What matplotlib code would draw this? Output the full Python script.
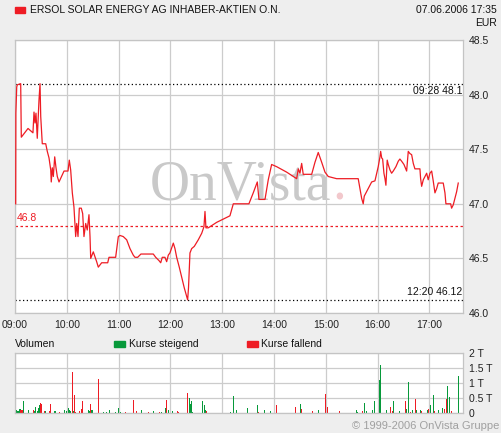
import matplotlib
matplotlib.use("Agg")
import matplotlib.pyplot as plt

# Kursverlauf: Minuten seit 09:00 und Kurs in EUR
price_minutes = [0.8, 1.0, 2.0, 2.7, 6.6, 7.3, 15.1, 20.8, 22.0, 23.2, 24.3, 25.8, 27.8, 29.0, 29.8,
                 31.6, 35.6, 37.4, 39.4, 41.4, 42.0, 43.2, 44.4, 46.0, 47.5, 49.0, 51.0, 56.8, 61.4,
                 62.9, 64.5, 66.4, 68.3, 70.3, 71.5, 73.0, 74.5, 76.8, 78.4, 79.9, 81.9, 83.7, 85.7,
                 86.9, 87.7, 90.7, 94.6, 96.5, 100.4, 107.4, 108.9, 116.6, 119.7, 121.6, 125.4,
                 129.4, 133.2, 137.0, 139.0, 142.1, 145.9, 160.2, 163.0, 166.8, 168.8, 170.6, 173.7,
                 175.7, 177.6, 179.5, 183.4, 185.3, 187.3, 190.3, 193.1, 196.1, 200.0, 201.0, 202.7,
                 204.7, 207.7, 212.3, 216.3, 218.9, 220.1, 221.2, 223.9, 227.8, 231.7, 233.6, 241.3,
                 249.0, 252.9, 271.0, 276.0, 280.7, 282.6, 289.6, 293.4, 297.3, 303.1, 314.7, 326.3,
                 328.2, 330.1, 332.1, 333.9, 343.7, 347.5, 351.3, 355.3, 359.1, 362.9, 372.6, 397.6,
                 399.6, 401.6, 403.4, 404.6, 406.6, 409.2, 413.2, 417.0, 419.0, 420.8, 422.8, 423.6,
                 424.8, 425.9, 427.4, 428.6, 429.7, 431.2, 432.4, 434.4, 436.3, 438.2, 441.3, 444.0,
                 445.9, 447.9, 450.6, 453.7, 455.6, 457.5, 459.5, 461.4, 463.3, 469.1, 469.9, 471.1,
                 473.0, 476.9, 478.7, 480.7, 482.7, 484.5, 486.5, 488.5, 490.3, 496.1, 498.1, 499.2,
                 504.7, 505.8, 507.7, 511.6, 513.5]
price_values = [47.00, 47.83, 48.07, 48.09, 48.10, 47.61, 47.69, 47.65, 47.84, 47.74, 47.83, 47.60,
                47.95, 48.10, 47.80, 47.55, 47.55, 47.48, 47.42, 47.31, 47.20, 47.33, 47.25, 47.43,
                47.33, 47.25, 47.20, 47.30, 47.30, 47.40, 47.31, 47.10, 46.97, 46.70, 46.82, 46.70,
                46.96, 46.96, 46.91, 46.70, 46.82, 46.76, 46.90, 46.70, 46.50, 46.56, 46.47, 46.42,
                46.46, 46.46, 46.51, 46.51, 46.70, 46.71, 46.70, 46.67, 46.59, 46.53, 46.51, 46.51,
                46.54, 46.54, 46.51, 46.48, 46.46, 46.51, 46.51, 46.47, 46.53, 46.55, 46.64, 46.59,
                46.51, 46.42, 46.33, 46.23, 46.12, 46.23, 46.55, 46.59, 46.61, 46.67, 46.73, 46.79,
                46.93, 46.78, 46.78, 46.80, 46.82, 46.83, 46.86, 46.89, 47.00, 47.00, 47.10, 47.20,
                47.04, 47.04, 47.22, 47.36, 47.34, 47.29, 47.23, 47.32, 47.28, 47.37, 47.27, 47.27,
                47.38, 47.47, 47.38, 47.29, 47.25, 47.23, 47.23, 47.14, 47.05, 47.00, 47.07, 47.10,
                47.14, 47.20, 47.21, 47.28, 47.34, 47.43, 47.48, 47.42, 47.41, 47.28, 47.23, 47.17,
                47.40, 47.36, 47.31, 47.28, 47.30, 47.34, 47.39, 47.41, 47.39, 47.36, 47.30, 47.48,
                47.46, 47.45, 47.37, 47.32, 47.32, 47.23, 47.16, 47.22, 47.28, 47.22, 47.28, 47.30,
                47.21, 47.10, 47.14, 47.19, 47.19, 47.10, 47.00, 47.00, 46.96, 46.99, 47.11, 47.19]

# Umsatz in Tausend Stueck
up_minutes = [0.0, 1.2, 2.3, 3.9, 5.8, 9.6, 15.4, 22.4, 23.5, 25.8, 27.0, 28.2, 35.1, 45.6, 46.7,
              57.1, 59.8, 61.8, 62.9, 64.1, 67.6, 85.0, 86.1, 88.4, 89.6, 102.3, 105.8, 109.2,
              116.2, 119.7, 122.0, 146.3, 160.2, 169.5, 174.1, 177.6, 182.2, 201.9, 203.1, 204.2,
              205.4, 217.0, 219.3, 220.4, 249.4, 252.9, 256.3, 269.1, 280.7, 288.8, 295.7, 330.5,
              351.3, 395.3, 396.5, 404.6, 406.9, 413.9, 416.2, 422.0, 423.1, 430.1, 438.2, 445.1,
              453.2, 455.6, 460.2, 464.8, 469.5, 477.6, 481.0, 484.5, 490.3, 494.9, 500.7, 503.0,
              513.5]
up_volume = [1.19, 0.11, 0.08, 0.08, 0.14, 0.41, 0.11, 0.08, 0.20, 0.08, 0.17, 0.28, 0.08, 0.08,
             0.08, 0.11, 0.08, 0.17, 0.11, 0.08, 0.08, 0.11, 0.08, 0.11, 0.11, 0.04, 0.04, 0.11,
             0.04, 0.18, 0.04, 0.11, 0.08, 0.04, 0.18, 0.11, 0.08, 0.51, 0.31, 0.41, 0.04, 0.41,
             0.28, 0.11, 0.04, 0.58, 0.11, 0.18, 0.28, 0.11, 0.08, 0.31, 0.11, 0.11, 0.04, 0.34,
             0.08, 0.11, 0.41, 1.11, 1.61, 0.11, 0.41, 0.08, 0.14, 1.04, 0.11, 0.11, 0.11, 0.11,
             0.28, 0.61, 0.11, 0.18, 0.91, 0.54, 1.24]
down_minutes = [6.9, 8.5, 21.2, 29.3, 30.5, 33.9, 39.7, 40.9, 51.3, 66.4, 68.7, 69.8, 74.5, 76.8,
                78.0, 87.2, 96.5, 127.8, 137.0, 140.5, 154.4, 167.1, 175.3, 188.0, 189.2, 199.6,
                221.6, 281.8, 302.7, 324.7, 331.6, 344.4, 359.4, 361.7, 375.6, 402.3, 434.7, 437.0,
                452.1, 457.9, 463.7, 470.6, 478.7, 485.7, 497.3, 499.6, 505.4]
down_volume = [0.11, 0.11, 0.11, 0.33, 0.31, 0.08, 0.08, 0.31, 0.04, 1.36, 0.59, 0.04, 0.08, 0.14,
               0.41, 0.31, 1.14, 0.04, 0.44, 0.08, 0.04, 0.04, 0.44, 0.08, 0.04, 0.68, 0.08, 0.04,
               0.28, 0.21, 0.14, 0.08, 0.64, 0.21, 0.08, 0.08, 0.21, 0.08, 0.41, 0.04, 0.48, 0.08,
               0.14, 0.08, 0.14, 0.48, 0.08]

hour_labels = ["09:00", "10:00", "11:00", "12:00", "13:00", "14:00", "15:00", "16:00", "17:00"]
price_ticks = [46.0, 46.5, 47.0, 47.5, 48.0, 48.5]
volume_ticks = [0, 0.5, 1, 1.5, 2]
volume_labels = ["0", "0.5 T", "1 T", "1.5 T", "2 T"]

prev_close = 46.8
day_high, high_time = 48.1, "09:28"
day_low, low_time = 46.12, "12:20"

RED = "#ee1c24"
GREEN = "#07993a"
GRID = "#cccccc"
BG = "#eeeeee"

plt.rcParams["font.family"] = ["Liberation Sans", "DejaVu Sans"]
plt.rcParams["font.size"] = 7.5

fig = plt.figure(figsize=(5.01, 4.33), dpi=100, facecolor=BG)
W, H = 501, 433


def box(left, top, right, bottom):
    # Pixelkoordinaten -> Figure-Koordinaten
    return [left / W, 1 - bottom / H, (right - left) / W, (bottom - top) / H]


x_max = 519
hour_pos = [60 * i for i in range(len(hour_labels))]

# --- Kurschart ---
ax = fig.add_axes(box(15, 40, 463, 313))
ax.set_facecolor("white")
ax.set_xlim(0, x_max)
ax.set_ylim(price_ticks[0], price_ticks[-1])
ax.set_xticks(hour_pos)
ax.set_xticklabels(hour_labels)
ax.set_yticks(price_ticks)
ax.set_yticklabels([f"{v:.1f}" for v in price_ticks])
ax.yaxis.tick_right()
ax.tick_params(length=0, pad=4, colors="#222222")
ax.tick_params(axis="x", pad=5)
ax.grid(True, color=GRID, linewidth=0.9)
ax.set_axisbelow(True)
for s in ax.spines.values():
    s.set_color("#c4c4c4")
    s.set_linewidth(0.9)

# Wasserzeichen
ax.text(0.707, 0.415, "OnVista", transform=ax.transAxes, ha="right", va="baseline",
        fontsize=40, family="Liberation Serif", color="#c9c9c9", zorder=0)
ax.text(0.709, 0.415, ".", transform=ax.transAxes, ha="left", va="baseline",
        fontsize=40, family="Liberation Serif", color="#f2c8cc", zorder=0)

ax.axhline(day_high, color="black", linestyle=(0, (1, 2)), linewidth=0.9)
ax.axhline(day_low, color="black", linestyle=(0, (1, 2)), linewidth=0.9)
ax.axhline(prev_close, color=RED, linestyle=(0, (2, 2)), linewidth=0.9)
ax.text(x_max - 1, day_high - 0.025, f"{high_time} {day_high}", ha="right", va="top", color="#111111")
ax.text(x_max - 1, day_low + 0.025, f"{low_time} {day_low}", ha="right", va="bottom", color="#111111")
ax.text(2, prev_close + 0.02, f"{prev_close}", ha="left", va="bottom", color=RED)

ax.plot(price_minutes, price_values, color=RED, linewidth=0.9, zorder=3)

# --- Umsatzchart ---
av = fig.add_axes(box(15, 353, 463, 413))
av.set_facecolor("white")
av.set_xlim(0, x_max)
av.set_ylim(0, 2)
av.set_xticks(hour_pos)
av.set_xticklabels([])
av.set_yticks(volume_ticks)
av.set_yticklabels(volume_labels)
av.yaxis.tick_right()
av.tick_params(length=0, pad=4, colors="#222222")
av.grid(True, color=GRID, linewidth=0.9)
av.set_axisbelow(True)
for s in av.spines.values():
    s.set_color("#c4c4c4")
    s.set_linewidth(0.9)
av.bar(up_minutes, up_volume, width=1.5, color=GREEN, linewidth=0, antialiased=False)
av.bar(down_minutes, down_volume, width=1.5, color=RED, linewidth=0, antialiased=False)

# --- Kopf und Legende ---
fig.patches.append(plt.Rectangle((15 / W, 1 - 13 / H), 10 / W, 6 / H, transform=fig.transFigure,
                                 color=RED, figure=fig))
fig.text(30 / W, 1 - 10 / H, "ERSOL SOLAR ENERGY AG INHABER-AKTIEN O.N.", va="center", color="#111111")
fig.text(497 / W, 1 - 10 / H, "07.06.2006 17:35", ha="right", va="center", color="#111111")
fig.text(497 / W, 1 - 23 / H, "EUR", ha="right", va="center", color="#111111")

fig.text(15 / W, 1 - 344 / H, "Volumen", va="center", color="#111111")
fig.patches.append(plt.Rectangle((114 / W, 1 - 347 / H), 11 / W, 6 / H, transform=fig.transFigure,
                                 color=GREEN, figure=fig))
fig.text(129 / W, 1 - 344 / H, "Kurse steigend", va="center", color="#111111")
fig.patches.append(plt.Rectangle((247 / W, 1 - 347 / H), 11 / W, 6 / H, transform=fig.transFigure,
                                 color=RED, figure=fig))
fig.text(261 / W, 1 - 344 / H, "Kurse fallend", va="center", color="#111111")

fig.text(499 / W, 1 - 426 / H, "\u00a9 1999-2006 OnVista Gruppe", ha="right", va="center",
         color="#a0a0a0", fontsize=8)

fig.savefig("out.png", dpi=100, facecolor=BG)
